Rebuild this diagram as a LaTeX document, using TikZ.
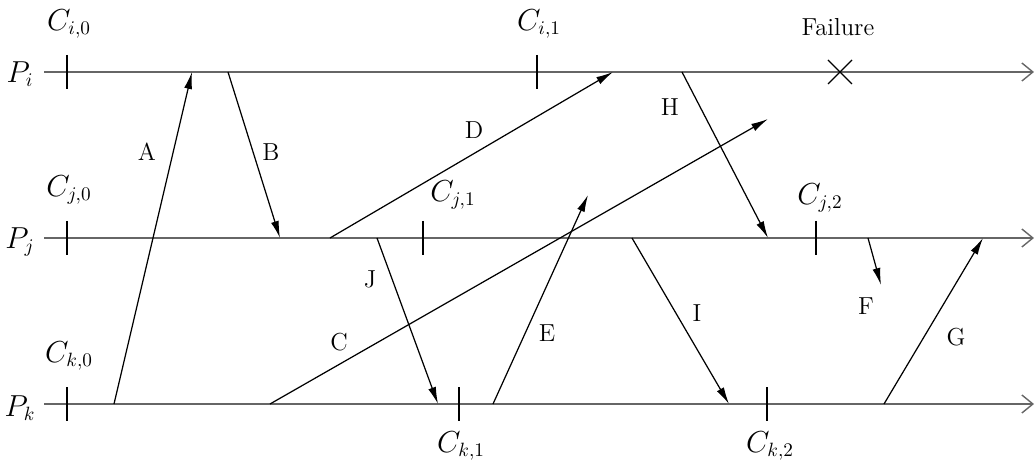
\documentclass[tikz,border=0pt]{standalone}
\usetikzlibrary{arrows.meta}
\tikzset{
  proc/.style={draw=black!60, line width=0.8pt, -{Straight Barb[length=2.2mm,width=3.6mm]}},
  msg/.style={draw, line width=0.7pt, -{Latex[length=3.4mm,width=1.6mm]}},
  ckpt/.style={line width=0.8pt},
  mlabel/.style={font=\fontsize{14}{16}\selectfont},
  clabel/.style={font=\fontsize{16}{18}\selectfont}
}
\begin{document}
\begin{tikzpicture}[x=0.02cm,y=-0.02cm]
\useasboundingbox (0,0) rectangle (1036,462);
% process lines
\node[clabel] (pi) at (20,74) {$P_i$};
\node[clabel] (pj) at (20,242) {$P_j$};
\node[clabel] (pk) at (20,408) {$P_k$};
\coordinate (pis) at (44,72);  \coordinate (pie) at (1034,72);
\coordinate (pjs) at (44,238); \coordinate (pje) at (1034,238);
\coordinate (pks) at (44,404); \coordinate (pke) at (1034,404);
\draw[proc] (pis) -- (pie);
\draw[proc] (pjs) -- (pje);
\draw[proc] (pks) -- (pke);
% checkpoints
\coordinate (ci0) at (67,72);  \coordinate (ci1) at (537,72);
\coordinate (cj0) at (67,238); \coordinate (cj1) at (423,238); \coordinate (cj2) at (816,238);
\coordinate (ck0) at (67,404); \coordinate (ck1) at (459,404); \coordinate (ck2) at (767,404);
\foreach \c in {ci0,ci1,cj0,cj1,cj2,ck0,ck1,ck2}
  \draw[ckpt] ([yshift=0.34cm]\c) -- ([yshift=-0.34cm]\c);
\node[clabel] (lci0) at (69,24) {$C_{i,0}$};
\node[clabel] (lci1) at (539,24) {$C_{i,1}$};
\node[clabel] (lcj0) at (69,190) {$C_{j,0}$};
\node[clabel] (lcj1) at (453,195) {$C_{j,1}$};
\node[clabel] (lcj2) at (820,198) {$C_{j,2}$};
\node[clabel] (lck0) at (69,356) {$C_{k,0}$};
\node[clabel] (lck1) at (461,446) {$C_{k,1}$};
\node[clabel] (lck2) at (770,446) {$C_{k,2}$};
% failure
\coordinate (fail) at (840,72);
\draw[line width=0.7pt] ([shift={(-12,-12)}]fail) -- ([shift={(12,12)}]fail);
\draw[line width=0.7pt] ([shift={(-12,12)}]fail) -- ([shift={(12,-12)}]fail);
\node[font=\fontsize{14}{16}\selectfont] (lfail) at (838,27) {Failure};
% messages
\coordinate (a0) at (114,404); \coordinate (a1) at (192,72);
\coordinate (b0) at (228,72);  \coordinate (b1) at (280,238);
\coordinate (c0) at (270,404); \coordinate (c1) at (768,119);
\coordinate (d0) at (330,238); \coordinate (d1) at (613,72);
\coordinate (e0) at (493,404); \coordinate (e1) at (588,195);
\coordinate (f0) at (868,238); \coordinate (f1) at (881,285);
\coordinate (g0) at (884,404); \coordinate (g1) at (983,238);
\coordinate (h0) at (682,72);  \coordinate (h1) at (768,238);
\coordinate (i0) at (632,238); \coordinate (i1) at (729,404);
\coordinate (j0) at (377,238); \coordinate (j1) at (438,404);
\draw[msg] (a0) -- (a1);
\draw[msg] (b0) -- (b1);
\draw[msg] (c0) -- (c1);
\draw[msg] (d0) -- (d1);
\draw[msg] (e0) -- (e1);
\draw[msg] (f0) -- (f1);
\draw[msg] (g0) -- (g1);
\draw[msg] (h0) -- (h1);
\draw[msg] (i0) -- (i1);
\draw[msg] (j0) -- (j1);
\node[mlabel] (la) at (147,152) {A};
\node[mlabel] (lb) at (271,152) {B};
\node[mlabel] (lc) at (339,342) {C};
\node[mlabel] (ld) at (474,130) {D};
\node[mlabel] (le) at (547,333) {E};
\node[mlabel] (lf) at (866,306) {F};
\node[mlabel] (lg) at (956,337) {G};
\node[mlabel] (lh) at (670,107) {H};
\node[mlabel] (li) at (697,313) {I};
\node[mlabel] (lj) at (370,279) {J};
\end{tikzpicture}
\end{document}
